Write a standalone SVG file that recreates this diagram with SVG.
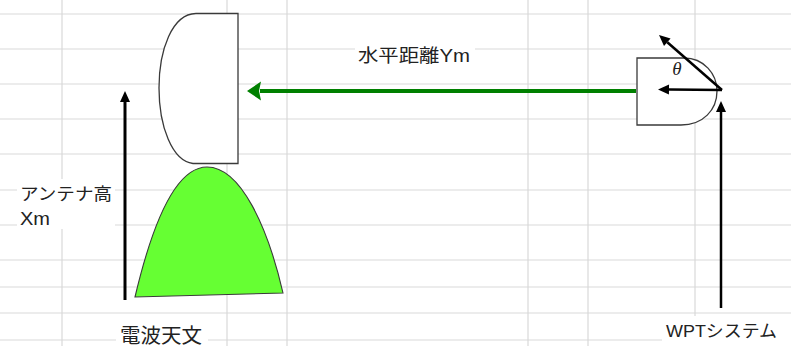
<svg xmlns="http://www.w3.org/2000/svg" width="791" height="346" viewBox="0 0 791 346">
  <style>
    .grid line { stroke: #d9d9d9; stroke-width: 1.2; }
    .outline { fill: #ffffff; stroke: #3a3a3a; stroke-width: 1.3; }
    .label { font-family: "Liberation Sans", "Noto Sans CJK JP", sans-serif; fill: #222222; }
    .pad { fill: #ffffff; }
    .arrow { stroke: #000000; fill: none; }
  </style>
  <defs>
    <marker id="head-black" markerUnits="userSpaceOnUse" markerWidth="14" markerHeight="14" refX="0" refY="7" orient="auto" overflow="visible">
      <path d="M0,2 L11,7 L0,12 Z" fill="#000000"/>
    </marker>
    <marker id="head-green" markerUnits="userSpaceOnUse" markerWidth="16" markerHeight="22" refX="1" refY="11" orient="auto" overflow="visible">
      <path d="M0,1.5 L14,11 L0,20.5 L2,11 Z" fill="#008000"/>
    </marker>
  </defs>

  <rect width="791" height="346" fill="#ffffff"/>

  <!-- worksheet grid -->
  <g class="grid">
    <line x1="0" y1="14" x2="791" y2="14"/>
    <line x1="0" y1="49" x2="791" y2="49"/>
    <line x1="0" y1="84" x2="791" y2="84"/>
    <line x1="0" y1="119" x2="791" y2="119"/>
    <line x1="0" y1="154" x2="791" y2="154"/>
    <line x1="0" y1="190" x2="791" y2="190"/>
    <line x1="0" y1="225" x2="791" y2="225"/>
    <line x1="0" y1="260" x2="791" y2="260"/>
    <line x1="0" y1="287" x2="791" y2="287"/>
    <line x1="0" y1="313" x2="791" y2="313"/>
    <line x1="0" y1="340" x2="791" y2="340"/>
    <line x1="62" y1="0" x2="62" y2="346"/>
    <line x1="227" y1="0" x2="227" y2="346"/>
    <line x1="287" y1="0" x2="287" y2="346"/>
    <line x1="528" y1="0" x2="528" y2="346"/>
    <line x1="588" y1="0" x2="588" y2="346"/>
    <line x1="695" y1="0" x2="695" y2="346"/>
  </g>

  <!-- radio telescope: dish and mount -->
  <g id="radio-dish">
    <path class="outline" d="M238,13.5 L196,13.5 C172,14 159,50 159,88 C159,126 172,161 193,163.5 L238,163.5 Z"/>
  </g>
  <g id="radio-mount">
    <path d="M135,297 C152,225 175,167 207,167 C241,167 268,228 283,293 Z" fill="#66ff33" stroke="#3a3a3a" stroke-width="1.1"/>
  </g>

  <!-- WPT transmitter -->
  <g id="wpt-unit">
    <path class="outline" d="M637,58 L684,58 C704,58 717,74 717,91 C717,110 703,125 681,125 L637,125 Z"/>
  </g>

  <!-- connectors -->
  <g id="connectors">
    <line x1="636" y1="91" x2="260" y2="91" stroke="#008000" stroke-width="4" marker-end="url(#head-green)"/>
    <line class="arrow" x1="125" y1="300" x2="125" y2="102" stroke-width="3" marker-end="url(#head-black)"/>
    <line class="arrow" x1="721" y1="308" x2="721" y2="112" stroke-width="2.5" marker-end="url(#head-black)"/>
    <line class="arrow" x1="722" y1="90" x2="669" y2="89.5" stroke-width="2.5" marker-end="url(#head-black)"/>
    <line class="arrow" x1="722" y1="90" x2="667.3" y2="42.2" stroke-width="2.5" marker-end="url(#head-black)"/>
  </g>

  <!-- labels -->
  <g id="label-distance">
    <rect class="pad" x="355" y="41" width="120" height="26"/>
    <text class="label" x="358" y="62" font-size="18" textLength="112" lengthAdjust="spacingAndGlyphs">水平距離Ym</text>
  </g>
  <g id="label-height">
    <rect class="pad" x="17" y="179" width="98" height="50"/>
    <text class="label" x="20" y="200" font-size="17" textLength="92" lengthAdjust="spacingAndGlyphs">アンテナ高</text>
    <text class="label" x="20" y="225" font-size="18" textLength="30" lengthAdjust="spacingAndGlyphs">Xm</text>
  </g>
  <g id="label-theta">
    <text x="677" y="75" font-family="Liberation Serif, serif" font-style="italic" font-size="19" fill="#222222" text-anchor="middle">θ</text>
  </g>
  <g id="label-radio">
    <rect class="pad" x="116" y="318" width="92" height="28"/>
    <text class="label" x="120" y="343" font-size="20" textLength="82" lengthAdjust="spacingAndGlyphs">電波天文</text>
  </g>
  <g id="label-wpt">
    <rect class="pad" x="662" y="316" width="129" height="30"/>
    <text class="label" x="666" y="337" font-size="17" textLength="111" lengthAdjust="spacingAndGlyphs">WPTシステム</text>
  </g>
</svg>
